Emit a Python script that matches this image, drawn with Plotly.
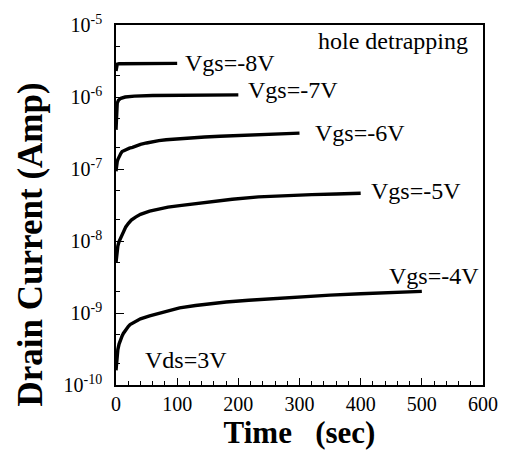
import math
import plotly.graph_objects as go

# ---- data ----
t_8 = [0, 0.5, 1, 2, 5, 10, 30, 60, 100]
i_8 = [2.3e-6, 2.6e-6, 2.75e-6, 2.85e-6, 2.9e-6, 2.9e-6, 2.92e-6, 2.92e-6, 2.93e-6]

t_7 = [0, 0.5, 1, 2, 4, 8, 15, 30, 60, 100, 150, 200]
i_7 = [3.5e-7, 5.5e-7, 7e-7, 8.2e-7, 9e-7, 9.6e-7, 1.0e-6, 1.03e-6, 1.05e-6, 1.06e-6, 1.06e-6, 1.07e-6]

t_6 = [0, 0.5, 1, 2, 3, 4, 6, 8, 10, 14, 18, 22, 27, 33, 40, 50, 60, 70, 82, 100, 120,
       145, 170, 200, 233, 265, 300]
i_6 = [9.3e-8, 1.05e-7, 1.15e-7, 1.27e-7, 1.35e-7, 1.42e-7, 1.55e-7, 1.65e-7, 1.75e-7,
       1.83e-7, 1.9e-7, 1.95e-7, 2.0e-7, 2.1e-7, 2.2e-7, 2.3e-7, 2.4e-7, 2.48e-7, 2.55e-7,
       2.63e-7, 2.7e-7, 2.78e-7, 2.85e-7, 2.93e-7, 3.0e-7, 3.07e-7, 3.15e-7]

t_5 = [0, 0.5, 1, 2, 3, 5, 7, 10, 12, 16, 20, 25, 32, 40, 55, 70, 85, 104, 130, 150, 190,
       233, 280, 320, 360, 400]
i_5 = [5e-9, 5.8e-9, 6.5e-9, 7.6e-9, 8.5e-9, 9.8e-9, 1.07e-8, 1.25e-8, 1.36e-8, 1.57e-8,
       1.75e-8, 1.95e-8, 2.15e-8, 2.35e-8, 2.6e-8, 2.8e-8, 2.95e-8, 3.1e-8, 3.3e-8, 3.45e-8,
       3.8e-8, 4.1e-8, 4.3e-8, 4.4e-8, 4.5e-8, 4.6e-8]

t_4 = [0, 0.5, 1, 2, 3, 5, 7, 10, 12, 16, 20, 23, 30, 40, 55, 70, 80, 104, 130, 150, 180,
       217, 260, 300, 350, 400, 450, 500]
i_4 = [1.6e-10, 1.9e-10, 2.2e-10, 2.7e-10, 3.1e-10, 3.7e-10, 4.2e-10, 4.8e-10, 5.2e-10,
       5.9e-10, 6.5e-10, 6.9e-10, 7.5e-10, 8.3e-10, 9.1e-10, 9.9e-10, 1.05e-9, 1.18e-9,
       1.27e-9, 1.33e-9, 1.42e-9, 1.5e-9, 1.59e-9, 1.68e-9, 1.77e-9, 1.85e-9, 1.93e-9, 2.0e-9]

series = [("Vgs=-8V", t_8, i_8), ("Vgs=-7V", t_7, i_7), ("Vgs=-6V", t_6, i_6),
          ("Vgs=-5V", t_5, i_5), ("Vgs=-4V", t_4, i_4)]

# label positions (time, current)
label_t = [110, 212, 322, 414, 443]
label_i = [2.95e-6, 1.25e-6, 3.2e-7, 4.9e-8, 3.3e-9]

y_tickvals = [1e-10, 1e-9, 1e-8, 1e-7, 1e-6, 1e-5]
y_ticktext = ["10<sup>-10</sup>", "10<sup>-9</sup>", "10<sup>-8</sup>", "10<sup>-7</sup>",
              "10<sup>-6</sup>", "10<sup>-5</sup>"]
x_tickvals = [0, 100, 200, 300, 400, 500, 600]

FONT = "Liberation Serif"

fig = go.Figure()
for name, t, i in series:
    fig.add_trace(go.Scatter(x=t, y=i, mode="lines", name=name,
                             line=dict(color="black", width=3.4), cliponaxis=False,
                             showlegend=False))

for (name, _, _), lt, li in zip(series, label_t, label_i):
    fig.add_annotation(x=lt, y=math.log10(li), text=name, showarrow=False,
                       xanchor="left", yanchor="middle",
                       font=dict(family=FONT, size=24, color="black"))

fig.add_annotation(x=327, y=math.log10(6.0e-6), text="hole detrapping", showarrow=False,
                   xanchor="left", yanchor="middle",
                   font=dict(family=FONT, size=24, color="black"))
fig.add_annotation(x=44, y=math.log10(2.2e-10), text="Vds=3V", showarrow=False,
                   xanchor="left", yanchor="middle",
                   font=dict(family=FONT, size=24, color="black"))

# y-axis title (placed like the reference, slightly below the axis centre)
fig.add_annotation(xref="paper", yref="paper", x=-0.232, y=0.39,
                   text="<b>Drain Current (Amp)</b>", textangle=-90, showarrow=False,
                   xanchor="center", yanchor="middle",
                   font=dict(family=FONT, size=35, color="black"))

fig.update_layout(
    width=510, height=454,
    margin=dict(l=116, r=23, t=24, b=66),
    paper_bgcolor="white", plot_bgcolor="white",
    font=dict(family=FONT, color="black"),
)
fig.update_xaxes(
    range=[0, 600], tickvals=x_tickvals, ticks="inside", ticklen=7, tickwidth=1.2,
    tickcolor="black", showline=True, linecolor="black", linewidth=1.5, mirror=True,
    showgrid=False, zeroline=False,
    tickfont=dict(family=FONT, size=20, color="black"),
    minor=dict(dtick=20, ticks="inside", ticklen=4, tickcolor="black", tickwidth=1),
    title=dict(text="<b>Time\u00a0\u00a0\u00a0(sec)</b>", standoff=6,
               font=dict(family=FONT, size=31, color="black")),
)
fig.update_yaxes(
    type="log", range=[-10, -5], tickvals=y_tickvals, ticktext=y_ticktext,
    ticks="inside", ticklen=8, tickwidth=1.2, tickcolor="black",
    showline=True, linecolor="black", linewidth=1.5, mirror=True,
    showgrid=False, zeroline=False, ticklabelstandoff=8,
    tickfont=dict(family=FONT, size=20, color="black"),
    minor=dict(ticks="inside", ticklen=4, tickcolor="black", tickwidth=1, showgrid=False),
)

fig.write_html("out.html")
